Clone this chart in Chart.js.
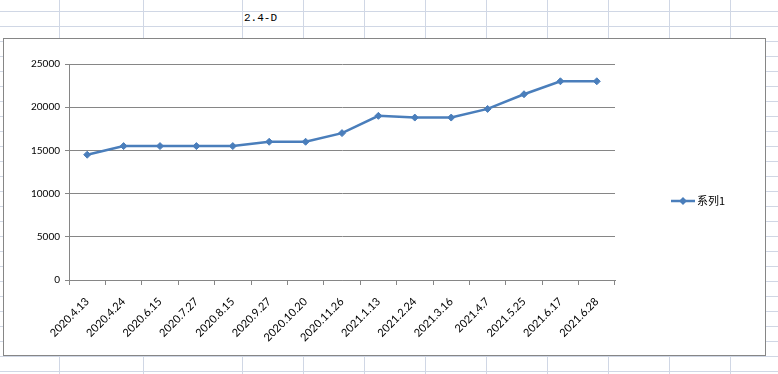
<!DOCTYPE html>
<html lang="zh">
<head>
  <meta charset="UTF-8">
  <title>2.4-D</title>
  <style>
    body {
      margin: 0;
      width: 778px;
      height: 374px;
      overflow: hidden;
      position: relative;
      background-color: #fff;
      background-image: linear-gradient(to bottom, #d0d7e5 1px, transparent 1px);
      background-size: 100% 15px;
      background-position: 0 11px;
    }
    .col {
      position: absolute;
      top: 0;
      width: 1px;
      height: 374px;
      background: #d0d7e5;
    }
    .cell-title {
      position: absolute;
      left: 244px;
      top: 12px;
      font: 11px "Liberation Mono", monospace;
      color: #000;
    }
    .chart-box {
      position: absolute;
      left: 3px;
      top: 38px;
      width: 761px;
      height: 316px;
      border: 1px solid #868686;
      background: #fff;
    }
  </style>
  <script src="https://cdn.jsdelivr.net/npm/chart.js"></script>
</head>
<body>
  <div class="cell-title">2.4-D</div>
  <div class="chart-box">
    <canvas id="chart" width="761" height="316"></canvas>
  </div>

  <script>
    const categories = ['2020.4.13', '2020.4.24', '2020.6.15', '2020.7.27', '2020.8.15', '2020.9.27',
      '2020.10.20', '2020.11.26', '2021.1.13', '2021.2.24', '2021.3.16', '2021.4.7', '2021.5.25',
      '2021.6.17', '2021.6.28'];
    const seriesName = '系列1';
    const values = [14500, 15500, 15500, 15500, 15500, 16000, 16000, 17000, 19000, 18800, 18800,
      19800, 21500, 23000, 23000];
    const yMin = 0;
    const yMax = 25000;
    const yStep = 5000;

    // spreadsheet column lines behind the chart
    [59, 143, 242, 303, 364, 425, 486, 547, 608, 669, 730].forEach(x => {
      const d = document.createElement('div');
      d.className = 'col';
      d.style.left = x + 'px';
      document.body.insertBefore(d, document.body.firstChild);
    });

    const blue = '#4a7ebb';
    const axisGray = '#868686';

    // Excel-style legend on the right
    const sideLegend = {
      id: 'sideLegend',
      afterDraw(chart) {
        const ctx = chart.ctx;
        const ds = chart.data.datasets[0];
        const y = 162;
        ctx.save();
        ctx.strokeStyle = ds.borderColor;
        ctx.lineWidth = 2.5;
        ctx.beginPath();
        ctx.moveTo(667, y);
        ctx.lineTo(691, y);
        ctx.stroke();
        ctx.fillStyle = ds.pointBackgroundColor;
        ctx.beginPath();
        ctx.moveTo(679, y - 4);
        ctx.lineTo(683, y);
        ctx.lineTo(679, y + 4);
        ctx.lineTo(675, y);
        ctx.closePath();
        ctx.fill();
        ctx.fillStyle = '#000';
        ctx.font = '11px "Noto Sans CJK SC"';
        ctx.textBaseline = 'middle';
        ctx.fillText(ds.label, 693, y);
        ctx.restore();
      }
    };

    new Chart(document.getElementById('chart'), {
      type: 'line',
      data: {
        labels: categories,
        datasets: [{
          label: seriesName,
          data: values,
          borderColor: blue,
          backgroundColor: blue,
          pointBackgroundColor: blue,
          pointBorderColor: blue,
          borderWidth: 2.5,
          pointStyle: 'rectRot',
          pointRadius: 3.5,
          pointBorderWidth: 1,
          tension: 0
        }]
      },
      options: {
        responsive: false,
        animation: false,
        layout: { padding: { left: 0, top: 25, right: 150, bottom: 0 } },
        plugins: {
          legend: { display: false },
          tooltip: { enabled: false }
        },
        scales: {
          x: {
            type: 'category',
            offset: true,
            grid: {
              offset: true,
              drawOnChartArea: false,
              drawTicks: true,
              tickLength: 5,
              color: axisGray
            },
            border: { color: axisGray },
            ticks: {
              autoSkip: false,
              minRotation: 45,
              maxRotation: 45,
              padding: 10,
              color: '#000',
              font: { family: 'Lato', size: 11 }
            },
            afterFit: s => { s.height = 75; }
          },
          y: {
            min: yMin,
            max: yMax,
            grid: {
              color: axisGray,
              tickLength: 4
            },
            border: { color: axisGray },
            ticks: {
              stepSize: yStep,
              padding: 5,
              color: '#000',
              font: { family: 'Lato', size: 10 },
              callback: v => String(v)
            },
            afterFit: s => { s.width = 65; }
          }
        }
      },
      plugins: [sideLegend]
    });
  </script>
</body>
</html>
